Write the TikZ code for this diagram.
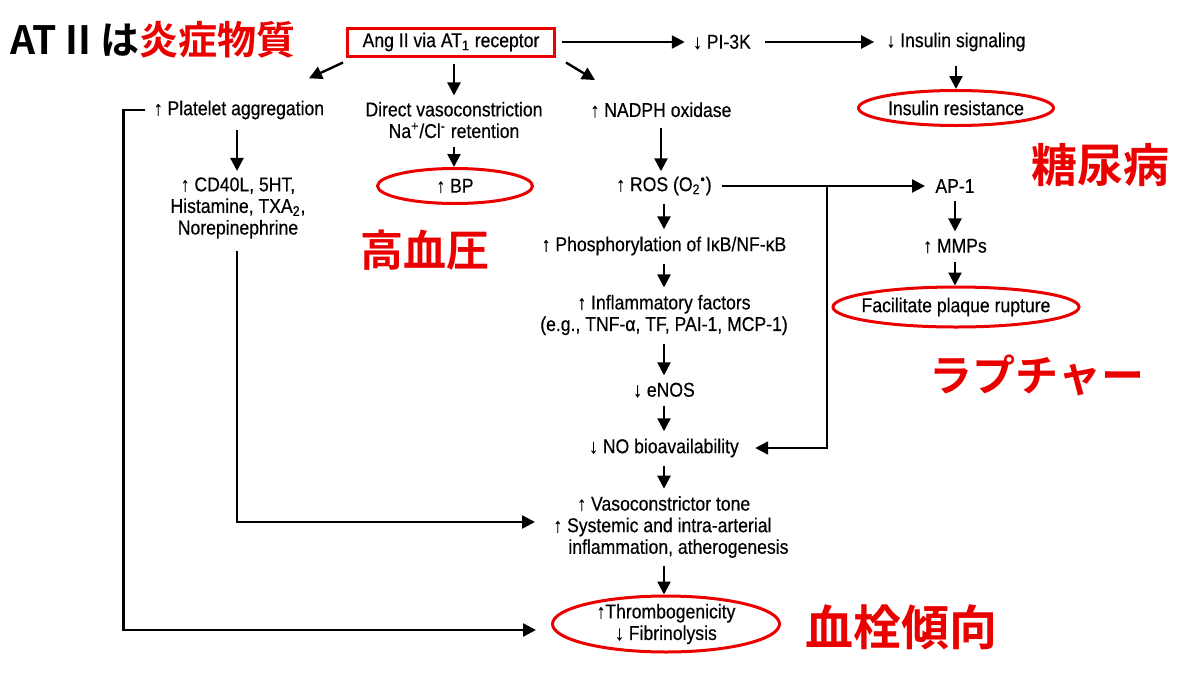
\documentclass[tikz,border=0pt]{standalone}
\usepackage{fontspec}
\setmainfont{Liberation Sans}[FakeStretch=0.88, FakeBold=0.4]
\newfontfamily\jpfont{Noto Sans CJK JP Bold}
\usetikzlibrary{arrows.meta,shapes.geometric,calc}
\definecolor{hired}{RGB}{235,0,0}
\tikzset{
  txt/.style={font=\fontsize{10}{10.8}\selectfont, inner sep=1pt, align=center},
  arr/.style={line width=1.2pt, -{Triangle[length=6.5pt,width=6.5pt]}},
  redbox/.style={txt, draw=hired, line width=1.5pt, minimum width=103.5pt, minimum height=14pt},
  redell/.style={txt, draw=hired, line width=1.5pt, ellipse, inner sep=0pt},
  jp/.style={font=\jpfont\fontsize{#1}{#1}\selectfont, text=hired, inner sep=0pt},
}
\begin{document}
\begin{tikzpicture}[x=0.5pt,y=-0.5pt]
\useasboundingbox (0,0) rectangle (1200,675);
% title and Japanese labels
\node[jp=19.5, anchor=west] (title) at (10,40) {\textcolor{black}{AT II は}炎症物質};
\node[jp=23] (tonyo) at (1100,165) {糖尿病};
\node[jp=21.5] (koketsu) at (425,250) {高血圧};
\node[jp=21.5] (rupture) at (1037,375) {ラプチャー};
\node[jp=24] (kessen) at (901,627) {血栓傾向};
% top row
\node[redbox] (ang) at (451,42) {Ang II via AT\textsubscript{1} receptor};
\node[txt] (pi3k) at (722,42) {↓ PI-3K};
\node[txt] (insig) at (956,42) {↓ Insulin signaling};
\node[redell, minimum width=97.5pt, minimum height=17.5pt] (inres) at (956,108) {Insulin resistance};
% second row
\node[txt] (plat) at (239,110) {↑ Platelet aggregation};
\node[txt] (vaso) at (454,120) {Direct vasoconstriction\\Na\textsuperscript{+}/Cl\textsuperscript{-} retention};
\node[txt] (nadph) at (661,110) {↑ NADPH oxidase};
% left branch
\node[txt] (cd40) at (238,208) {↑ CD40L, 5HT,\\Histamine, TXA\textsubscript{2},\\Norepinephrine};
\node[redell, minimum width=77.5pt, minimum height=17.5pt] (bp) at (455,186) {↑ BP};
% central chain
\node[txt] (ros) at (664,186) {↑ ROS (O\textsubscript{2}\textsuperscript{•})};
\node[txt] (phos) at (664,246) {↑ Phosphorylation of IκB/NF-κB};
\node[txt] (infl) at (664,315) {↑ Inflammatory factors\\(e.g., TNF-α, TF, PAI-1, MCP-1)};
\node[txt] (enos) at (664,390) {↓ eNOS};
\node[txt] (nob) at (664,448) {↓ NO bioavailability};
\node[txt, align=left, anchor=west] (vct) at (551,527) {\hspace*{12pt}↑ Vasoconstrictor tone\\↑ Systemic and intra-arterial\\\hspace*{7.5pt}inflammation, atherogenesis};
\node[redell, minimum width=113.5pt, minimum height=28pt, inner ysep=-2pt] (thr) at (666,624) {↑Thrombogenicity\\↓ Fibrinolysis};
% right branch
\node[txt] (ap1) at (955,186) {AP-1};
\node[txt] (mmp) at (955,246) {↑ MMPs};
\node[redell, minimum width=123pt, minimum height=20pt, inner xsep=-4pt] (plaq) at (956,307) {Facilitate plaque rupture};
\coordinate (br) at (827,186);
% connectors
\draw[arr] ([xshift=3pt]ang.east) -- ([xshift=-3pt]pi3k.west);
\draw[arr] ([xshift=6pt]pi3k.east) -- ([xshift=-5pt]insig.west);
\draw[arr] ($(insig.south)+(0,12)$) -- (inres.north);
\draw[arr] ($(ang.south west)+(-3,5)$) -- ($(plat.north)+(70,-20)$);
\draw[arr] ($(ang.south)+(3,6)$) -- ($(vaso.north -| ang.south)+(3,-4)$);
\draw[arr] ($(ang.south east)+(10,5)$) -- ($(nadph.north)+(-66,-20)$);
\draw[arr] ($(plat.south)+(-2,8)$) -- ($(cd40.north -| plat.south)+(-2,-4)$);
\draw[arr] ($(vaso.south)+(0,6)$) -- (bp.north -| vaso.south);
\draw[arr] ($(nadph.south)+(0,8)$) -- ($(ros.north -| nadph.south)+(0,-3)$);
\draw[arr] ([xshift=4pt]ros.east) -- ([xshift=-4pt]ap1.west);
\draw[arr] (br) |- ([xshift=7pt]nob.east);
\draw[arr] ($(ros.south)+(0,6)$) -- ($(phos.north)+(0,-5)$);
\draw[arr] ($(ap1.south)+(0,6)$) -- ($(mmp.north)+(0,-5)$);
\draw[arr] ($(mmp.south)+(0,6)$) -- (plaq.north -| mmp.south);
\draw[arr] ($(phos.south)+(0,6)$) -- ($(infl.north)+(0,-5)$);
\draw[arr] ($(infl.south)+(0,6)$) -- ($(enos.north)+(0,-5)$);
\draw[arr] ($(enos.south)+(0,6)$) -- ($(nob.north)+(0,-5)$);
\draw[arr] ($(nob.south)+(0,6)$) -- ($(vct.north -| nob.south)+(0,-5)$);
\draw[arr] ($(vct.south -| nob.south)+(0,6)$) -- (thr.north -| nob.south);
\draw[arr] ($(cd40.south)+(-1,10)$) |- ($(vct.west)+(-16,-5)$);
\draw[arr] ([xshift=-3pt]plat.west) -- ++(-22,0) |- ($(thr.west)+(-15,6)$);
\end{tikzpicture}
\end{document}
